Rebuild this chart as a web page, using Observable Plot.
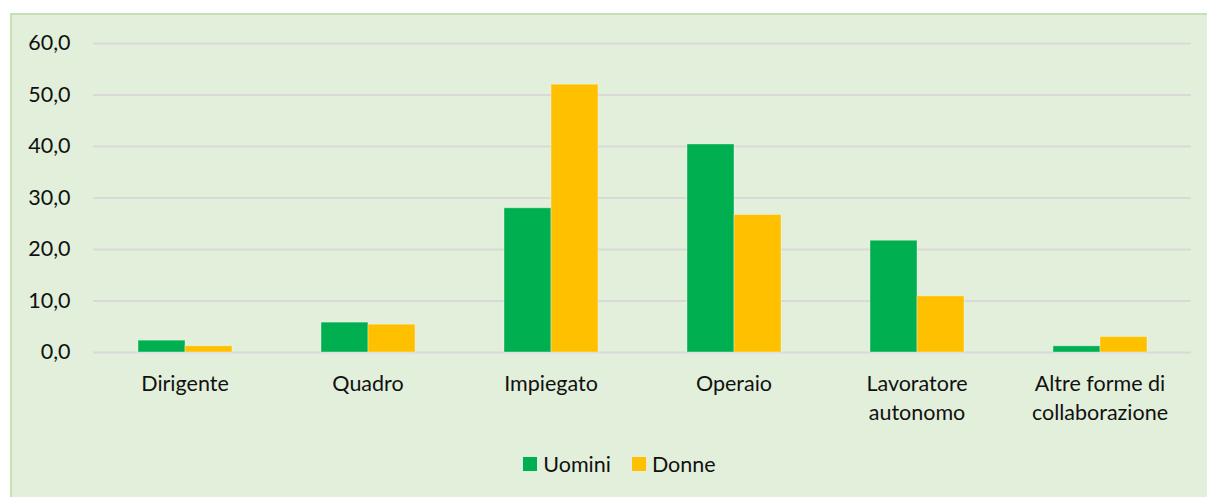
<!DOCTYPE html>
<html>
<head>
<meta charset="utf-8">
<script src="https://cdn.jsdelivr.net/npm/d3@7"></script>
<script src="https://cdn.jsdelivr.net/npm/@observablehq/plot@0.6"></script>
<style>
  html, body { margin: 0; padding: 0; background: #ffffff; width: 1207px; height: 497px; overflow: hidden; }
  #frame { position: absolute; left: 10px; top: 13px; width: 1210px; height: 500px; background: #E2EFDA; border: 2px solid #C5E0B4; box-sizing: border-box; }
  #chart { position: absolute; left: 0; top: 0; }
  #legend { position: absolute; left: 0; top: 451px; width: 1207px; display: flex; justify-content: center; gap: 21px; font-family: Lato, "Open Sans", sans-serif; font-size: 21.5px; color: #111; padding-left: 32px; box-sizing: border-box; }
  .item { display: flex; align-items: center; gap: 6px; }
  .sw { width: 14px; height: 14px; display: inline-block; }
</style>
</head>
<body>
<div id="frame"></div>
<div id="chart"></div>
<div id="legend"></div>
<script>
const categories = ["Dirigente", "Quadro", "Impiegato", "Operaio", "Lavoratore autonomo", "Altre forme di collaborazione"];
const categoryLabels = ["Dirigente", "Quadro", "Impiegato", "Operaio", "Lavoratore\nautonomo", "Altre forme di\ncollaborazione"];
const seriesNames = ["Uomini", "Donne"];
const uomini = [2.3, 5.8, 28.0, 40.4, 21.7, 1.2];
const donne = [1.2, 5.4, 52.0, 26.7, 10.9, 3.0];
const yTicks = [0, 10, 20, 30, 40, 50, 60];
const colors = ["#00B050", "#FFC000"];

const rows = [];
categories.forEach((c, i) => {
  rows.push({category: c, serie: seriesNames[0], value: uomini[i]});
  rows.push({category: c, serie: seriesNames[1], value: donne[i]});
});
const labelOf = new Map(categories.map((c, i) => [c, categoryLabels[i]]));
const fmt = d => d.toFixed(1).replace(".", ",");

const chart = Plot.plot({
  width: 1207,
  height: 440,
  marginLeft: 93,
  marginRight: 16,
  marginTop: 43,
  marginBottom: 88,
  style: {background: "transparent", fontFamily: "Lato, 'Open Sans', sans-serif", fontSize: "21.5px", color: "#111"},
  fx: {domain: categories, padding: 0, axis: null, label: null},
  x: {domain: seriesNames, paddingInner: 0, paddingOuter: 0.926, axis: null},
  y: {domain: [0, 60], ticks: yTicks, axis: null},
  color: {domain: seriesNames, range: colors},
  marks: [
    Plot.gridY(yTicks, {stroke: "#D9D9D9", strokeOpacity: 1, strokeWidth: 2}),
    Plot.barY(rows, {fx: "category", x: "serie", y: "value", fill: "serie", inset: 0, stroke: "#ffffff", strokeOpacity: 0.35, strokeWidth: 1}),
    Plot.axisY(yTicks, {tickSize: 0, tickPadding: 23, tickFormat: fmt, fontSize: 21.5, label: null}),
    Plot.axisFx({anchor: "bottom", tickSize: 0, tickPadding: 18, tickFormat: d => labelOf.get(d), lineHeight: 1.35, fontSize: 21.5, label: null})
  ]
});
document.getElementById("chart").appendChild(chart);

const legend = document.getElementById("legend");
seriesNames.forEach((s, i) => {
  const it = document.createElement("div");
  it.className = "item";
  const sw = document.createElement("span");
  sw.className = "sw";
  sw.style.background = colors[i];
  const t = document.createElement("span");
  t.textContent = s;
  it.appendChild(sw); it.appendChild(t);
  legend.appendChild(it);
});
</script>
</body>
</html>
